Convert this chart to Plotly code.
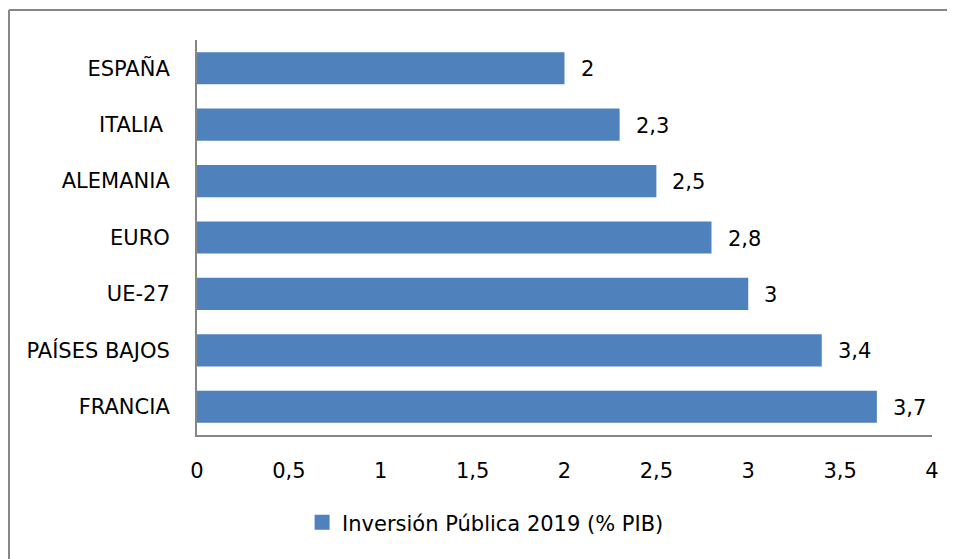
import plotly.graph_objects as go

# Data
paises = ["ESPAÑA", "ITALIA\u00a0", "ALEMANIA", "EURO", "UE-27", "PAÍSES BAJOS", "FRANCIA"]
inversion = [2, 2.3, 2.5, 2.8, 3, 3.4, 3.7]
serie = "Inversión Pública 2019 (% PIB)"

FONT = "DejaVu Sans, Open Sans, sans-serif"
FSIZE = 21
AZUL = "#4F81BD"
GRIS = "#868686"

fig = go.Figure()

fig.add_trace(go.Bar(
    x=inversion,
    y=paises,
    orientation="h",
    name=serie,
    marker=dict(color=AZUL, line=dict(width=0)),
    width=0.57,
    showlegend=False,
))

# legend entry with a bigger square swatch
fig.add_trace(go.Scatter(
    x=[None], y=[None],
    mode="markers",
    name=serie,
    marker=dict(symbol="square", size=15, color=AZUL),
))

# Value labels to the right of each bar
for v, p in zip(inversion, paises):
    fig.add_annotation(
        x=v, y=p, text=f"{v:g}".replace(".", ","),
        xanchor="left", yanchor="middle", xshift=14, yshift=-1,
        showarrow=False, font=dict(family=FONT, size=FSIZE, color="#000000"),
    )

# the page adds an 8px body margin, so margins are shifted by 8px
fig.update_layout(
    width=955,
    height=559,
    margin=dict(l=189, r=31, t=32, b=132),
    paper_bgcolor="white",
    plot_bgcolor="white",
    separators=",.",
    font=dict(family=FONT, size=FSIZE, color="#000000"),
    showlegend=True,
    legend=dict(
        orientation="h",
        x=0.143, xanchor="left",
        y=-0.17, yanchor="top",
        font=dict(family=FONT, size=FSIZE, color="#000000"),
        itemwidth=30,
    ),
    xaxis=dict(
        range=[0, 4],
        dtick=0.5,
        showgrid=False,
        zeroline=False,
        showline=True,
        linecolor=GRIS,
        linewidth=2,
        ticks="",
        ticklabelstandoff=16,
        tickfont=dict(family=FONT, size=FSIZE),
    ),
    yaxis=dict(
        autorange="reversed",
        showgrid=False,
        showline=True,
        linecolor=GRIS,
        linewidth=2,
        ticks="",
        ticklabelstandoff=21,
        tickfont=dict(family=FONT, size=FSIZE),
    ),
    shapes=[
        # chart border (top and left edges)
        dict(type="line", xref="paper", yref="paper",
             x0=(9 - 197) / 735, x1=1.1, y0=1 + 30 / 395, y1=1 + 30 / 395,
             line=dict(color=GRIS, width=2)),
        dict(type="line", xref="paper", yref="paper",
             x0=(9 - 197) / 735, x1=(9 - 197) / 735, y0=1 + 30 / 395, y1=-0.5,
             line=dict(color=GRIS, width=2)),
    ],
)

fig.write_html("out.html")
